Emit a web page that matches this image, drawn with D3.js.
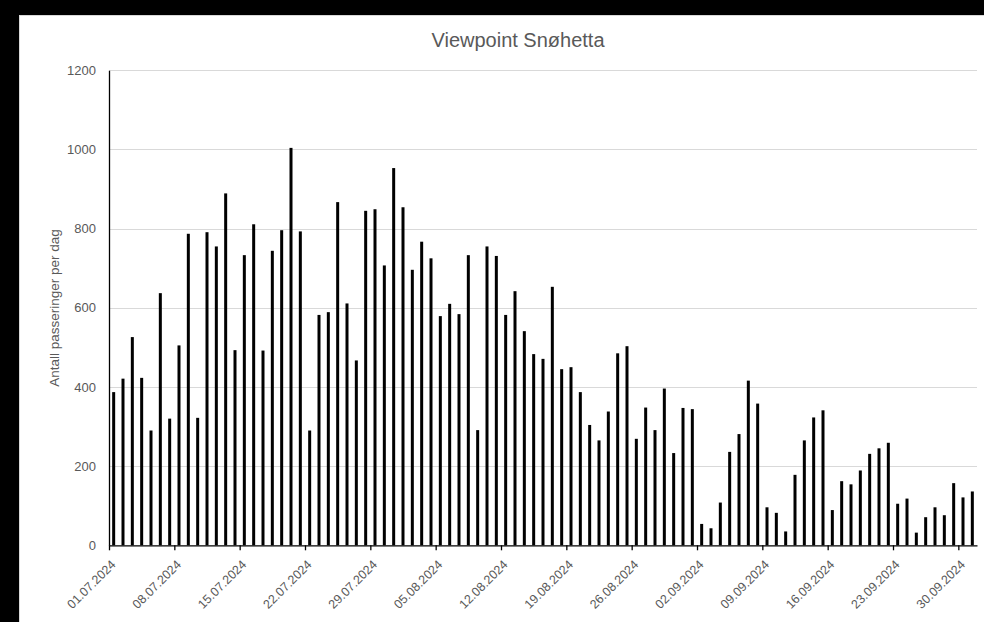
<!DOCTYPE html>
<html>
<head>
<meta charset="utf-8">
<script src="https://cdn.jsdelivr.net/npm/d3@7"></script>
<style>
  html, body { margin: 0; padding: 0; background: #000; }
  svg { display: block; }
  text { font-family: "Liberation Sans", Arial, sans-serif; fill: #595959; }
</style>
</head>
<body>
<svg id="chart" width="984" height="622"></svg>
<script>
// ---- data ----
const startDate = new Date(2024, 6, 1);   // 01.07.2024
const values = [
  387, 421, 526, 423, 290, 637, 320, 505, 787, 322, 791, 755, 889,
  493, 733, 811, 492, 744, 796, 1004, 793, 290, 582, 589, 867, 611,
  467, 845, 849, 707, 953, 854, 696, 767, 725, 579, 610, 584, 733,
  291, 755, 731,
  582, 642, 541, 483, 471, 653, 445, 450, 387, 304, 265, 338, 485, 503, 269, 348, 291, 396, 233,
  347, 344, 54, 43, 108, 236, 281, 416, 358, 96, 82, 35, 178, 265, 323, 341, 89, 162, 154, 189, 231,
  245, 259, 105, 118, 32, 71, 96, 76, 157, 121, 136
];
const yTicks = [0, 200, 400, 600, 800, 1000, 1200];
const titleText = "Viewpoint Snøhetta";
const yTitle = "Antall passeringer per dag";

const dates = values.map((v, i) => d3.timeDay.offset(startDate, i));
const data = dates.map((d, i) => ({ date: d, value: values[i] }));
const tickDates = d3.range(0, values.length, 7).map(i => dates[i]);

// ---- layout ----
const svg = d3.select("#chart");
const plot = { left: 109, right: 977, top: 70.3, bottom: 545.3 };

svg.append("rect")
  .attr("x", 19.5).attr("y", 15.5).attr("width", 970).attr("height", 612)
  .attr("fill", "#fff").attr("stroke", "#d9d9d9");

const x = d3.scaleTime()
  .domain([startDate, d3.timeDay.offset(startDate, values.length)])
  .range([plot.left, plot.right]);
const y = d3.scaleLinear().domain([0, 1200]).range([plot.bottom, plot.top]);

// gridlines
svg.append("g").selectAll("line")
  .data(yTicks.filter(t => t > 0))
  .join("line")
  .attr("x1", plot.left).attr("x2", plot.right)
  .attr("y1", d => Math.round(y(d)) + 0.5).attr("y2", d => Math.round(y(d)) + 0.5)
  .attr("stroke", "#d9d9d9").attr("stroke-width", 1);

// bars
const barW = 3;
svg.append("g").selectAll("rect")
  .data(data)
  .join("rect")
  .attr("x", d => (x(d.date) + x(d3.timeDay.offset(d.date, 1))) / 2 - barW / 2)
  .attr("width", barW)
  .attr("y", d => y(d.value))
  .attr("height", d => y(0) - y(d.value))
  .attr("fill", "#000");

// y axis
const yAxis = svg.append("g")
  .attr("transform", `translate(${plot.left},0)`)
  .call(d3.axisLeft(y).tickValues(yTicks).tickFormat(d3.format("d")).tickSize(0).tickPadding(13));
yAxis.select(".domain").attr("stroke", "#000").attr("stroke-width", 1.3);
yAxis.selectAll("text")
  .style("font-size", "13px")
  .attr("fill", "#595959")
  .style("font-family", '"Liberation Sans", Arial, sans-serif');

// x axis
const xAxis = svg.append("g")
  .attr("transform", `translate(0,${plot.bottom})`)
  .call(d3.axisBottom(x)
    .tickValues(tickDates)
    .tickFormat(d3.timeFormat("%d.%m.%Y"))
    .tickSize(5)
    .tickSizeOuter(0));
xAxis.select(".domain").attr("stroke", "#000").attr("stroke-width", 1.3);
xAxis.selectAll(".tick line").attr("stroke", "#000").attr("stroke-width", 1.3);
xAxis.selectAll("text")
  .attr("x", 0).attr("y", 0).attr("dy", 0)
  .attr("text-anchor", "end")
  .attr("transform", "translate(7,20) rotate(-45)")
  .attr("fill", "#595959")
  .style("font-size", "12.5px")
  .style("font-family", '"Liberation Sans", Arial, sans-serif');

// title
svg.append("text")
  .attr("x", 518).attr("y", 47)
  .attr("text-anchor", "middle")
  .style("font-size", "20px")
  .text(titleText);

// y axis title
svg.append("text")
  .attr("transform", "translate(59,308) rotate(-90)")
  .attr("text-anchor", "middle")
  .style("font-size", "13.5px")
  .text(yTitle);
</script>
</body>
</html>
